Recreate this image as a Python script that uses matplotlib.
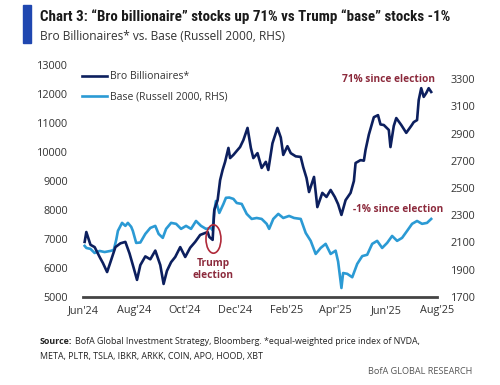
import matplotlib
matplotlib.use("Agg")
import matplotlib.pyplot as plt
import matplotlib.dates as mdates
from matplotlib.patches import Ellipse, Rectangle
import pandas as pd

plt.rcParams['font.family'] = ['Open Sans', 'DejaVu Sans']

# Bro Billionaires index (left axis)
bro_dates = ["2024-06-03", "2024-06-05", "2024-06-10", "2024-06-15", "2024-06-21", "2024-06-25",
             "2024-06-30", "2024-07-04", "2024-07-10", "2024-07-16", "2024-07-22", "2024-07-27",
             "2024-08-01", "2024-08-05", "2024-08-09", "2024-08-15", "2024-08-21", "2024-08-27",
             "2024-09-02", "2024-09-06", "2024-09-10", "2024-09-15", "2024-09-20", "2024-09-26",
             "2024-10-02", "2024-10-08", "2024-10-14", "2024-10-20", "2024-10-29", "2024-10-31",
             "2024-11-04", "2024-11-06", "2024-11-10", "2024-11-13", "2024-11-16", "2024-11-19",
             "2024-11-23", "2024-11-25", "2024-11-29", "2024-12-04", "2024-12-07", "2024-12-11",
             "2024-12-16", "2024-12-20", "2024-12-23", "2024-12-28", "2025-01-02", "2025-01-07",
             "2025-01-10", "2025-01-15", "2025-01-21", "2025-01-25", "2025-01-28", "2025-02-02",
             "2025-02-06", "2025-02-12", "2025-02-18", "2025-02-21", "2025-02-25", "2025-02-28",
             "2025-03-06", "2025-03-10", "2025-03-16", "2025-03-21", "2025-03-26", "2025-03-31",
             "2025-04-04", "2025-04-08", "2025-04-13", "2025-04-19", "2025-04-23", "2025-04-25",
             "2025-05-01", "2025-05-05", "2025-05-07", "2025-05-11", "2025-05-17", "2025-05-22",
             "2025-05-25", "2025-05-29", "2025-06-04", "2025-06-06", "2025-06-10", "2025-06-13",
             "2025-06-19", "2025-06-25", "2025-07-01", "2025-07-04", "2025-07-08", "2025-07-10",
             "2025-07-13", "2025-07-16", "2025-07-19", "2025-07-22", "2025-07-25"]
bro_vals = [6900, 7240, 6800, 6720, 6380, 6170,
            5860, 6200, 6720, 6850, 6900, 6500,
            6000, 5590, 6100, 6400, 6300, 6600,
            6100, 5450, 5900, 6200, 6380, 6720,
            6380, 6700, 6900, 7140, 7240, 7070,
            6970, 8000, 8340, 9030, 9380, 9660,
            10140, 9790, 9900, 10070, 10170, 10410,
            10830, 10140, 9790, 9960, 9450, 9660,
            9380, 10300, 10830, 10500, 9900, 10200,
            9960, 9850, 9830, 9480, 9100, 8620,
            9140, 8100, 8590, 8450, 8690, 8450,
            8200, 7830, 8340, 8590, 9000, 9620,
            9720, 9700, 10070, 10600, 11200, 11270,
            10950, 10930, 10760, 10170, 10900, 11170,
            10930, 10660, 10900, 11030, 11100, 11790,
            12200, 11900, 12030, 12200, 12070]

# Russell 2000 (right axis)
base_dates = ["2024-06-03", "2024-06-05", "2024-06-10", "2024-06-15", "2024-06-21", "2024-06-27",
              "2024-07-04", "2024-07-08", "2024-07-11", "2024-07-13", "2024-07-18", "2024-07-22",
              "2024-07-25", "2024-07-29", "2024-07-31", "2024-08-04", "2024-08-09", "2024-08-15",
              "2024-08-21", "2024-08-27", "2024-08-31", "2024-09-05", "2024-09-09", "2024-09-15",
              "2024-09-21", "2024-09-27", "2024-10-03", "2024-10-09", "2024-10-15", "2024-10-21",
              "2024-10-27", "2024-11-02", "2024-11-04", "2024-11-06", "2024-11-08", "2024-11-12",
              "2024-11-17", "2024-11-20", "2024-11-24", "2024-11-29", "2024-12-03", "2024-12-09",
              "2024-12-15", "2024-12-21", "2024-12-27", "2025-01-02", "2025-01-08", "2025-01-11",
              "2025-01-16", "2025-01-22", "2025-01-28", "2025-02-04", "2025-02-10", "2025-02-18",
              "2025-02-24", "2025-03-02", "2025-03-08", "2025-03-14", "2025-03-20", "2025-03-26",
              "2025-04-01", "2025-04-04", "2025-04-08", "2025-04-10", "2025-04-15", "2025-04-21",
              "2025-04-27", "2025-05-03", "2025-05-09", "2025-05-15", "2025-05-21", "2025-05-27",
              "2025-06-02", "2025-06-08", "2025-06-14", "2025-06-20", "2025-06-26", "2025-07-02",
              "2025-07-08", "2025-07-14", "2025-07-20", "2025-07-25"]
base_vals = [2075, 2060, 2053, 2023, 2038, 2030,
             2038, 2045, 2120, 2185, 2244, 2222,
             2244, 2215, 2185, 2097, 2100, 2163,
             2207, 2222, 2163, 2134, 2200, 2244,
             2237, 2200, 2222, 2200, 2258, 2222,
             2200, 2207, 2190, 2332, 2405, 2317,
             2383, 2428, 2430, 2420, 2390, 2383,
             2310, 2273, 2280, 2273, 2237, 2200,
             2273, 2310, 2280, 2295, 2280, 2273,
             2170, 2112, 2016, 2060, 2090, 2016,
             2040, 1960, 1766, 1876, 1870, 1845,
             1943, 2000, 2010, 2090, 2112, 2060,
             2097, 2148, 2112, 2134, 2185, 2237,
             2258, 2237, 2244, 2273]

left_ticks = [5000, 6000, 7000, 8000, 9000, 10000, 11000, 12000, 13000]
right_ticks = [1700, 1900, 2100, 2300, 2500, 2700, 2900, 3100, 3300]
month_ticks = ["2024-06-01", "2024-08-01", "2024-10-01", "2024-12-01", "2025-02-01",
               "2025-04-01", "2025-06-01", "2025-08-01"]
month_labels = ["Jun'24", "Aug'24", "Oct'24", "Dec'24", "Feb'25", "Apr'25", "Jun'25", "Aug'25"]

navy = "#0c1f5e"
sky = "#2b9ad4"
maroon = "#8c2a3c"
tick_col = "#333333"

fig = plt.figure(figsize=(5, 3.85), dpi=100)
ax = fig.add_axes([0.166, 0.2286, 0.708, 0.6026])
ax2 = ax.twinx()
ax.set_zorder(ax2.get_zorder() + 1)
ax.patch.set_visible(False)

bd = pd.to_datetime(bro_dates)
rd = pd.to_datetime(base_dates)
l1, = ax.plot(bd, bro_vals, color=navy, lw=1.9, label="Bro Billionaires*")
l2, = ax2.plot(rd, base_vals, color=sky, lw=1.9, label="Base (Russell 2000, RHS)")

ax.set_xlim(pd.Timestamp("2024-06-01"), pd.Timestamp("2025-08-01"))
ax.set_ylim(5000, 13000)
ax2.set_ylim(1700, 3403)
ax.set_yticks(left_ticks)
ax2.set_yticks(right_ticks)
ax.set_xticks(pd.to_datetime(month_ticks))
ax.set_xticklabels(month_labels)

for a in (ax, ax2):
    for s in a.spines.values():
        s.set_visible(False)
    a.tick_params(length=0, labelsize=7.8, colors=tick_col)
ax.spines['bottom'].set_visible(True)
ax.spines['bottom'].set_color("#444444")
ax.spines['bottom'].set_linewidth(2)
ax.tick_params(axis='y', pad=11)
ax2.tick_params(axis='y', pad=10)
ax.tick_params(axis='x', pad=6)

leg = ax.legend(handles=[l1, l2], loc="upper left", frameon=False, fontsize=7.5,
                handlelength=2.4, handletextpad=0.3, labelspacing=0.9,
                bbox_to_anchor=(-0.015, 0.99), borderaxespad=0)
for t in leg.get_texts():
    t.set_color(tick_col)

# election marker
ex = mdates.date2num(pd.Timestamp("2024-11-05"))
ax.add_patch(Ellipse((ex, 7000), width=18, height=980, fill=False, ec="#b02a3a", lw=1.2, zorder=5))
ax.text(ex, 5950, "Trump\nelection", color=maroon, fontsize=7.3, ha="center", va="center",
        fontweight="bold", linespacing=1.2)
ax.text(pd.Timestamp("2025-07-29"), 12500, "71% since election", color=maroon, fontsize=7.3,
        ha="right", va="center", fontweight="bold")
ax2.text(pd.Timestamp("2025-08-08"), 2340, "-1% since election", color=maroon, fontsize=7.3,
         ha="right", va="center", fontweight="bold")

# header
fig.patches.append(Rectangle((23 / 500, 1 - 43 / 385), 8 / 500, 38 / 385, transform=fig.transFigure,
                             color="#1f47b0", zorder=3))
fig.text(40 / 500, 1 - 17 / 385, "Chart 3: \u201cBro billionaire\u201d stocks up 71% vs Trump \u201cbase\u201d stocks -1%",
         fontsize=10.8, fontweight="bold", color="#1a1a1a", va="center", ha="left",
         family=["Roboto Condensed", "Roboto", "DejaVu Sans"])
fig.text(40 / 500, 1 - 36 / 385, "Bro Billionaires* vs. Base (Russell 2000, RHS)",
         fontsize=8.6, color="#333333", va="center", ha="left")

# footer
src = fig.text(40 / 500, 1 - 341 / 385, "Source:", fontsize=6.4, fontweight="bold",
               color="#222222", va="center", ha="left")
fig.canvas.draw()
bb = src.get_window_extent(fig.canvas.get_renderer())
fig.text(bb.x1 / 500 + 0.006, 1 - 341 / 385,
         "BofA Global Investment Strategy, Bloomberg. *equal-weighted price index of NVDA,",
         fontsize=6.4, color="#222222", va="center", ha="left")
fig.text(40 / 500, 1 - 356 / 385, "META, PLTR, TSLA, IBKR, ARKK, COIN, APO, HOOD, XBT",
         fontsize=6.4, color="#222222", va="center", ha="left")
fig.text(472 / 500, 1 - 372 / 385, "BofA GLOBAL RESEARCH", fontsize=6.6, color="#555555",
         va="center", ha="right")

fig.savefig("out.png", dpi=100)
